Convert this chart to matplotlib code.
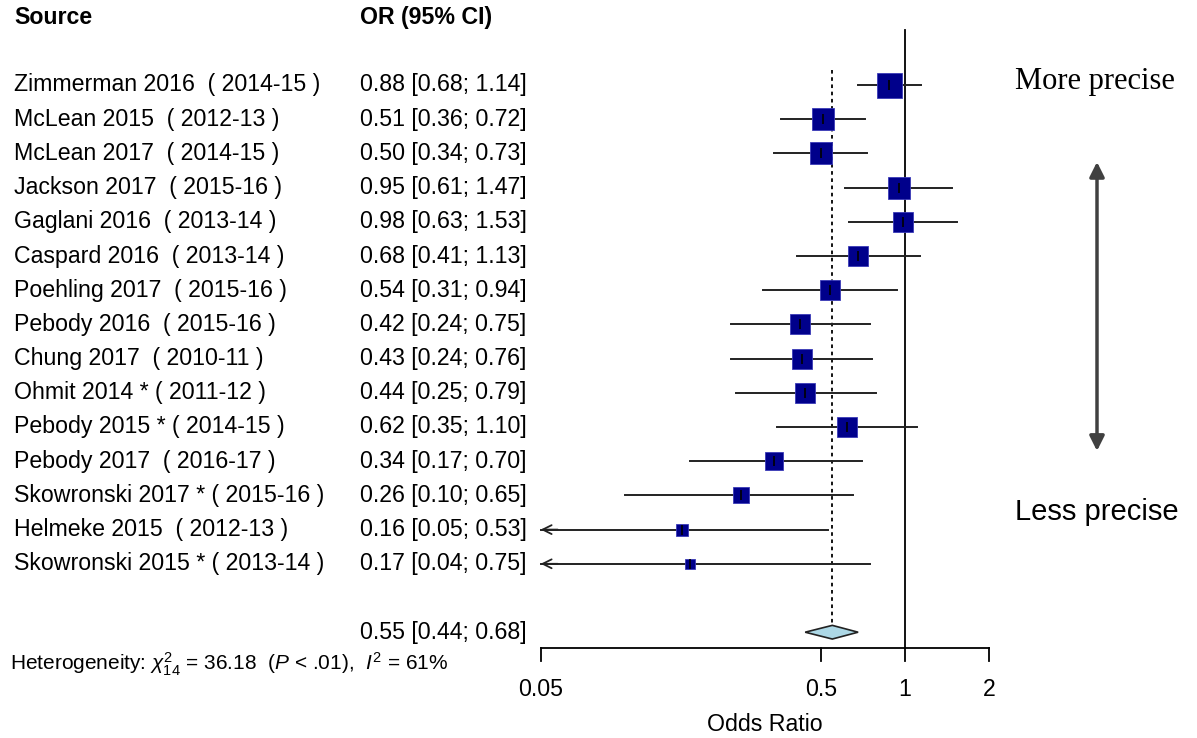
import matplotlib
matplotlib.use('Agg')
import matplotlib.pyplot as plt
import matplotlib.transforms as mtransforms
from matplotlib.patches import Polygon
import numpy as np

plt.rcParams['font.family'] = ['Liberation Sans', 'DejaVu Sans']
plt.rcParams['mathtext.fontset'] = 'custom'
plt.rcParams['mathtext.rm'] = 'Liberation Sans'
plt.rcParams['mathtext.it'] = 'Liberation Sans:italic'

# ---------------------------------------------------------------------------
# data
# ---------------------------------------------------------------------------
studies = ['Zimmerman 2016  ( 2014-15 )', 'McLean 2015  ( 2012-13 )',
           'McLean 2017  ( 2014-15 )', 'Jackson 2017  ( 2015-16 )',
           'Gaglani 2016  ( 2013-14 )', 'Caspard 2016  ( 2013-14 )',
           'Poehling 2017  ( 2015-16 )', 'Pebody 2016  ( 2015-16 )',
           'Chung 2017  ( 2010-11 )', 'Ohmit 2014 * ( 2011-12 )',
           'Pebody 2015 * ( 2014-15 )', 'Pebody 2017  ( 2016-17 )',
           'Skowronski 2017 * ( 2015-16 )', 'Helmeke 2015  ( 2012-13 )',
           'Skowronski 2015 * ( 2013-14 )']
odds = [0.88, 0.51, 0.50, 0.95, 0.98, 0.68, 0.54, 0.42, 0.43, 0.44, 0.62, 0.34, 0.26, 0.16, 0.17]
ci_low = [0.68, 0.36, 0.34, 0.61, 0.63, 0.41, 0.31, 0.24, 0.24, 0.25, 0.35, 0.17, 0.10, 0.05, 0.04]
ci_high = [1.14, 0.72, 0.73, 1.47, 1.53, 1.13, 0.94, 0.75, 0.76, 0.79, 1.10, 0.70, 0.65, 0.53, 0.75]
weights = [11.2, 8.7, 8.7, 8.7, 7.9, 7.2, 6.5, 6.5, 6.5, 6.5, 6.5, 5.8, 4.6, 2.6, 2.0]  # % (estimated)

pooled = 0.55
pooled_low = 0.44
pooled_high = 0.68

xticks = [0.05, 0.5, 1, 2]
xticklabels = ['0.05', '0.5', '1', '2']

# ---------------------------------------------------------------------------
# figure: one axes over the whole canvas, log x, row index on y
# ---------------------------------------------------------------------------
W, H = 1197, 738
fig = plt.figure(figsize=(W / 100, H / 100), dpi=100)
ax = fig.add_axes([0, 0, 1, 1])
ax.set_xscale('log')
# x pixel = 905 + 280*log10(OR)
ax.set_xlim(10 ** (-905 / 280), 10 ** ((W - 905) / 280))
# y pixel = 85 + 34.2*row
ax.set_ylim((H - 85) / 34.2, -85 / 34.2)
ax.axis('off')

tr = mtransforms.blended_transform_factory(ax.transAxes, ax.transData)
FS = 16.7
xmin, xmax = xticks[0], xticks[-1]
n = len(studies)
rows = np.arange(n)
sum_row = n + 1
axis_row = sum_row + 0.46

# header
ax.text(14 / W, -1.96, 'Source', transform=tr, fontsize=FS, fontweight='bold', va='center')
ax.text(360 / W, -1.96, 'OR (95% CI)', transform=tr, fontsize=FS, fontweight='bold', va='center')

# reference lines
ax.plot([1, 1], [-1.6, axis_row], color='black', lw=1.3, zorder=1)
ax.plot([pooled, pooled], [-0.45, sum_row - 0.2], color='black', lw=1.3,
        linestyle=(0, (2, 2)), zorder=1)

# study rows
box_max = 25  # px for the largest weight
for i in rows:
    ax.text(14 / W, i, studies[i], transform=tr, fontsize=FS, va='center')
    ax.text(360 / W, i, f'{odds[i]:.2f} [{ci_low[i]:.2f}; {ci_high[i]:.2f}]',
            transform=tr, fontsize=FS, va='center')

    lo = max(ci_low[i], xmin)
    ax.plot([lo, ci_high[i]], [i, i], color='#222222', lw=1.4, zorder=2)
    if ci_low[i] <= xmin:
        ax.annotate('', xy=(xmin, i), xytext=(xmin * 1.15, i),
                    arrowprops=dict(arrowstyle='->', color='#222222', lw=1.3,
                                    shrinkA=0, shrinkB=0, mutation_scale=16))

    size_px = box_max * np.sqrt(weights[i] / max(weights))
    ax.plot(odds[i], i, marker='s', markersize=size_px * 0.72,
            markerfacecolor='#00008B', markeredgecolor='#3a3ab8',
            markeredgewidth=0.6, zorder=3)
    ax.plot(odds[i], i, marker='|', markersize=7, color='black', mew=1.2, zorder=4)

# pooled estimate
ax.text(360 / W, sum_row, f'{pooled:.2f} [{pooled_low:.2f}; {pooled_high:.2f}]',
        transform=tr, fontsize=FS, va='center')
dia = Polygon([[pooled_low, sum_row], [pooled, sum_row - 0.2],
               [pooled_high, sum_row], [pooled, sum_row + 0.2]],
              closed=True, facecolor='#ADD8E6', edgecolor='#222222', lw=1.2, zorder=3)
ax.add_patch(dia)

ax.text(10 / W, sum_row + 0.95,
        r'Heterogeneity: $\chi^2_{14}$ = 36.18  ($P$ < .01),  $I^2$ = 61%',
        transform=tr, fontsize=15, va='center')

# x axis
ax.plot([xmin, xmax], [axis_row, axis_row], color='black', lw=1.3)
for t, lab in zip(xticks, xticklabels):
    ax.plot([t, t], [axis_row, axis_row + 0.38], color='black', lw=1.3)
    ax.text(t, sum_row + 1.69, lab, fontsize=FS, ha='center', va='center')
ax.text(np.sqrt(xmin * xmax), sum_row + 2.71, 'Odds Ratio', fontsize=FS,
        ha='center', va='center')

# precision annotation on the right
ax.text(1095 / W, -0.09, 'More precise', transform=tr, fontsize=22,
        family='Liberation Serif', ha='center', va='center')
ax.text(1097 / W, 12.49, 'Less precise', transform=tr, fontsize=21,
        ha='center', va='center')
ax.annotate('', xy=(1097 / W, 2.25), xytext=(1097 / W, 10.7),
            xycoords=tr, textcoords=tr,
            arrowprops=dict(arrowstyle='<|-|>', color='#404040', lw=2.5,
                            mutation_scale=22, shrinkA=0, shrinkB=0))

plt.savefig('out.png', dpi=100)
